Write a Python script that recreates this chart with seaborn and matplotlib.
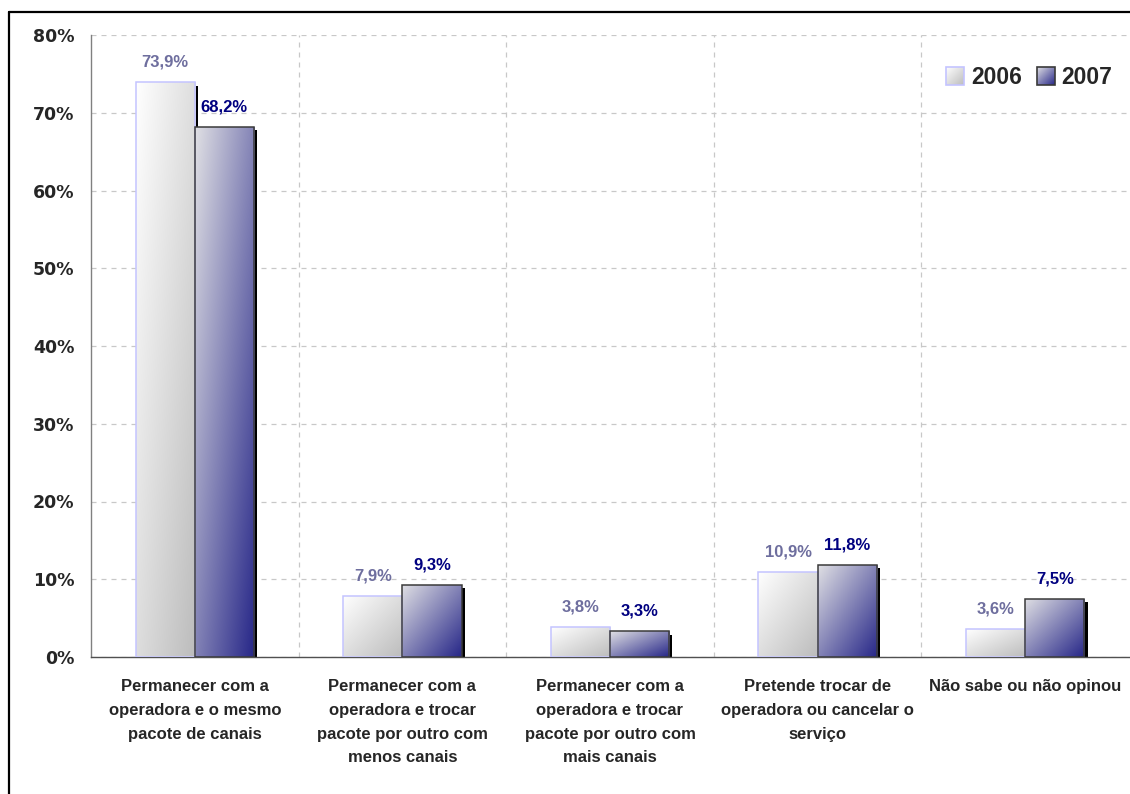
import numpy as np
import pandas as pd
import matplotlib
matplotlib.use("Agg")
import matplotlib.pyplot as plt
import seaborn as sns
from matplotlib.patches import Rectangle
from matplotlib.lines import Line2D
from matplotlib import patheffects
from matplotlib.legend_handler import HandlerBase
from matplotlib.image import BboxImage
from matplotlib.transforms import Bbox, TransformedBbox
from matplotlib.colors import to_rgb

categories = [
    "Permanecer com a\noperadora e o mesmo\npacote de canais",
    "Permanecer com a\noperadora e trocar\npacote por outro com\nmenos canais",
    "Permanecer com a\noperadora e trocar\npacote por outro com\nmais canais",
    "Pretende trocar de\noperadora ou cancelar o\nserviço",
    "Não sabe ou não opinou",
]
years = ["2006", "2007"]
values_2006 = [73.9, 7.9, 3.8, 10.9, 3.6]
values_2007 = [68.2, 9.3, 3.3, 11.8, 7.5]
yticks = [0, 10, 20, 30, 40, 50, 60, 70, 80]

df = pd.DataFrame({
    "cat": categories * 2,
    "val": values_2006 + values_2007,
    "ano": [years[0]] * 5 + [years[1]] * 5,
})

sns.set_style("white")
plt.rcParams["font.family"] = ["Liberation Sans", "DejaVu Sans"]

W, H = 1130, 794
fig = plt.figure(figsize=(W / 100, H / 100), dpi=100)
ax = fig.add_axes([91 / W, 1 - 657 / H, (1129 - 91) / W, (657 - 35) / H])

grad_stops = {
    "2006": ("#ffffff", "#bcbcbc"),
    "2007": ("#e0e0e4", "#262688"),
}
edge_colors = {"2006": "#c4c4ff", "2007": "#3a3a3a"}
label_colors = {"2006": "#6e6e9e", "2007": "#000080"}


def gradient_img(c0, c1, n=200):
    u = np.linspace(0, 1, n)[None, :]
    v = np.linspace(0, 1, n)[:, None]
    t = (u + v) / 2.0
    a = np.array(to_rgb(c0))
    b = np.array(to_rgb(c1))
    img = a[None, None, :] * (1 - t[..., None]) + b[None, None, :] * t[..., None]
    return np.clip(img, 0, 1)


sns.barplot(data=df, x="cat", y="val", hue="ano", hue_order=years,
            width=0.57, palette=["#dddddd", "#7777aa"], ax=ax,
            legend=False, saturation=1, zorder=2)

ax.set_xlim(-0.5, 4.5)
ax.set_ylim(0, 80)

for year, container, vals in zip(years, ax.containers, [values_2006, values_2007]):
    img = gradient_img(*grad_stops[year])
    for patch, v in zip(container.patches, vals):
        x0, y0 = patch.get_x(), patch.get_y()
        w, h = patch.get_width(), patch.get_height()
        patch.set_edgecolor("none")
        patch.set_path_effects([
            patheffects.SimplePatchShadow(offset=(2.3, -2.3), shadow_rgbFace="black", alpha=1.0),
            patheffects.Normal(),
        ])
        im = ax.imshow(img, extent=[x0, x0 + w, y0, y0 + h], origin="upper",
                       aspect="auto", interpolation="bilinear", zorder=3)
        im.set_clip_path(patch)
        ax.add_patch(Rectangle((x0, y0), w, h, fill=False,
                               edgecolor=edge_colors[year], linewidth=1.1, zorder=4))
        ax.annotate(f"{v:.1f}".replace(".", ",") + "%",
                    xy=(x0 + w / 2, y0 + h), xytext=(0, 9), textcoords="offset points",
                    ha="center", va="bottom", fontsize=12, fontweight="bold",
                    color=label_colors[year], zorder=5)

ax.set_xlim(-0.5, 4.5)
ax.set_ylim(0, 80)

# grid
ax.set_yticks(yticks)
ax.set_yticklabels([f"{t}%" for t in yticks], fontsize=12.5, fontweight="bold",
                   family=["DejaVu Sans"])
ax.set_xticks(range(5))
ax.set_xticklabels(categories, fontsize=12, fontweight="bold", linespacing=1.72,
                   va="top", ha="center")
ax.set_xticks([0.5, 1.5, 2.5, 3.5], minor=True)
ax.tick_params(axis="x", which="major", length=0, pad=16)
ax.tick_params(axis="x", which="minor", length=6, color="#606060", direction="out")
ax.tick_params(axis="y", length=6, color="#808080", direction="out", pad=6)
ax.yaxis.grid(True, linestyle=(0, (4, 4)), color="#c8c8c8", linewidth=0.9, zorder=0)
ax.xaxis.grid(True, which="minor", linestyle=(0, (4, 4)), color="#c8c8c8", linewidth=0.9)
ax.xaxis.grid(False, which="major")
ax.set_axisbelow(True)
ax.set_xlabel("")
ax.set_ylabel("")

for s in ["top", "right"]:
    ax.spines[s].set_visible(False)
ax.spines["left"].set_color("#808080")
ax.spines["bottom"].set_color("#505050")
ax.spines["left"].set_linewidth(1)
ax.spines["bottom"].set_linewidth(1)


class GradHandler(HandlerBase):
    def __init__(self, img, edge):
        super().__init__()
        self.img = img
        self.edge = edge

    def create_artists(self, legend, orig_handle, xdescent, ydescent, width, height,
                       fontsize, trans):
        s = min(width, height * 1.1)
        x0 = -xdescent + (width - s) / 2
        y0 = -ydescent + (height - s) / 2
        bb = TransformedBbox(Bbox.from_bounds(x0, y0, s, s), trans)
        im = BboxImage(bb, interpolation="bilinear")
        im.set_data(self.img)
        rect = Rectangle((x0, y0), s, s, fill=False, edgecolor=self.edge,
                         linewidth=1.2, transform=trans)
        return [im, rect]


h06 = Rectangle((0, 0), 1, 1)
h07 = Rectangle((0, 0), 1, 1)
leg = ax.legend([h06, h07], years, ncol=2, frameon=False,
                loc="upper right", bbox_to_anchor=(1133 / W, 1 - 45 / H),
                bbox_transform=fig.transFigure,
                prop={"family": "Liberation Sans", "weight": "bold", "size": 16.5},
                handlelength=0.78, handleheight=0.78, handletextpad=0.3,
                columnspacing=0.65,
                handler_map={h06: GradHandler(gradient_img(*grad_stops["2006"]), edge_colors["2006"]),
                             h07: GradHandler(gradient_img(*grad_stops["2007"]), edge_colors["2007"])})

# figure frame (left and top edges)
fig.add_artist(Line2D([9 / W, 9 / W], [0, 1 - 12 / H], color="black", linewidth=1.6,
                      transform=fig.transFigure))
fig.add_artist(Line2D([9 / W, 1], [1 - 12 / H, 1 - 12 / H], color="black", linewidth=1.6,
                      transform=fig.transFigure))

fig.savefig("out.png", dpi=100)
